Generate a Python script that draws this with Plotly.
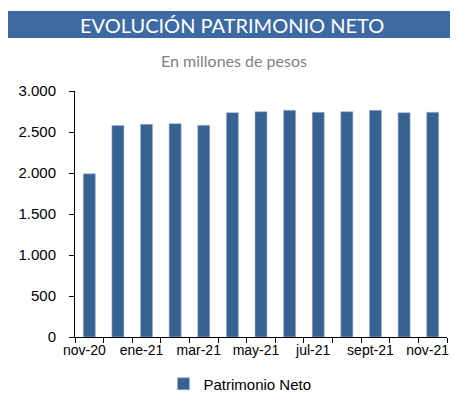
import plotly.graph_objects as go

months = ["nov-20", "dic-20", "ene-21", "feb-21", "mar-21", "abr-21", "may-21",
          "jun-21", "jul-21", "ago-21", "sept-21", "oct-21", "nov-21"]
patrimonio = [1990, 2580, 2593, 2602, 2581, 2736, 2748, 2764, 2740, 2748, 2764, 2736, 2740]
tick_text = [m if i % 2 == 0 else "" for i, m in enumerate(months)]

# page has an 8px body margin; figure sized so the page never overflows the window
OFF = 8
W, H = 458 - 2 * OFF, 400 - 2 * OFF
L, T = 75 - OFF, 91 - OFF
R = W - (447 - OFF)
B = H - (337 - OFF)
pw, ph = W - L - R, H - T - B

def px(x):  # page x -> paper
    return (x - OFF - L) / pw

def py(y):  # page y -> paper
    return (H - B - (y - OFF)) / ph

fig = go.Figure()
fig.add_trace(go.Bar(x=months, y=patrimonio, name="Patrimonio Neto",
                     marker=dict(color="#386292", line=dict(color="#9fb3cc", width=0.6))))

fig.update_layout(
    width=W, height=H,
    margin=dict(l=L, r=R, t=T, b=B, autoexpand=False),
    plot_bgcolor="white", paper_bgcolor="white",
    bargap=0.58,
    separators=",.",
    showlegend=True,
    legend=dict(orientation="h", x=px(240), xanchor="center", y=py(384), yanchor="middle",
                font=dict(family="Liberation Sans, Arial", size=15, color="#000000")),
    font=dict(family="Liberation Sans, Arial", size=15, color="#000000"),
    xaxis=dict(type="category", tickmode="array", tickvals=months, ticktext=tick_text,
               tickangle=0, automargin=False, ticklabelshift=-5,
               showline=True, linecolor="#000000", linewidth=1,
               ticks="outside", tickson="boundaries", ticklen=5, tickcolor="#000000",
               showgrid=False, tickfont=dict(size=14)),
    yaxis=dict(range=[0, 3000], dtick=500, tickformat=",d", automargin=False,
               showline=True, linecolor="#000000", linewidth=1,
               ticks="outside", ticklen=5, tickcolor="#000000", ticklabelstandoff=10,
               showgrid=False, zeroline=False, tickfont=dict(size=15)),
    shapes=[dict(type="rect", xref="paper", yref="paper",
                 x0=px(8), x1=px(450), y0=py(38), y1=py(11),
                 fillcolor="#3D6AA2", line=dict(width=0), layer="above")],
    annotations=[
        dict(text="EVOLUCIÓN PATRIMONIO NETO", xref="paper", yref="paper",
             x=px(232), y=py(24.5), xanchor="center", yanchor="middle", showarrow=False,
             font=dict(family="Lato, Open Sans", size=20, color="white")),
        dict(text="En millones de pesos", xref="paper", yref="paper",
             x=px(233.5), y=py(60), xanchor="center", yanchor="middle", showarrow=False,
             font=dict(family="Lato, Open Sans", size=16, color="#7f7f7f")),
    ],
)

fig.write_html("out.html")
